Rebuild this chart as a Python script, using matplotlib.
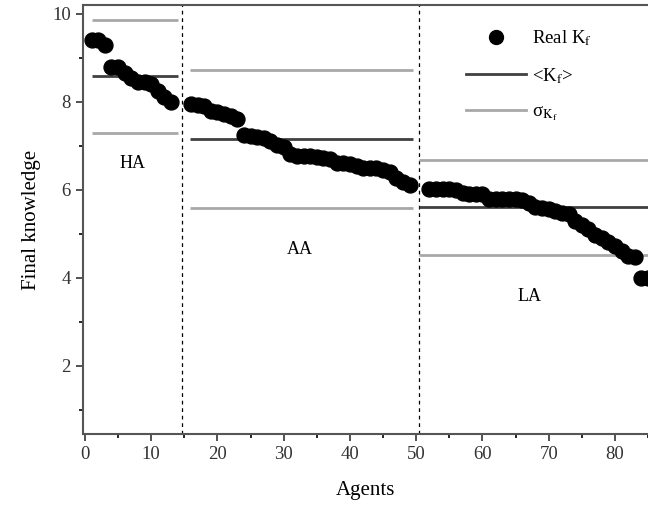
import numpy as np
import matplotlib.pyplot as plt
from matplotlib.lines import Line2D

plt.rcParams['font.family'] = ['Liberation Serif', 'DejaVu Serif']
plt.rcParams['mathtext.fontset'] = 'stix'

# Agent indices and final knowledge per group
ha_agents = np.arange(1, 14)
ha_values = [9.4, 9.4, 9.3, 8.8, 8.8, 8.65, 8.55, 8.45, 8.45, 8.4, 8.25, 8.1, 8.0]

aa_agents = np.arange(16, 50)
aa_values = [7.95, 7.93, 7.9, 7.8, 7.78, 7.72, 7.68, 7.6, 7.25, 7.22, 7.2, 7.18,
             7.1, 7.03, 6.98, 6.82, 6.78, 6.76, 6.76, 6.75, 6.72, 6.7, 6.62, 6.6,
             6.58, 6.55, 6.5, 6.5, 6.5, 6.45, 6.4, 6.28, 6.18, 6.1]

la_agents = np.arange(52, 86)
la_values = [6.02, 6.02, 6.02, 6.02, 6.0, 5.92, 5.9, 5.9, 5.9, 5.8, 5.8, 5.8,
             5.8, 5.8, 5.78, 5.7, 5.62, 5.58, 5.56, 5.52, 5.48, 5.45, 5.28, 5.2,
             5.1, 4.98, 4.9, 4.82, 4.72, 4.62, 4.5, 4.48, 4.0, 4.0]

# Group statistics: mean and spread, and the agent range each line covers
group_names = ['HA', 'AA', 'LA']
group_mean = [8.58, 7.15, 5.6]
group_sigma = [1.29, 1.57, 1.08]
group_start = [1, 15.8, 50.5]
group_end = [14, 49.5, 86]
group_label_pos = [(7.2, 6.6), (32.4, 4.64), (67.1, 3.57)]
boundaries = [14.6, 50.5]

fig = plt.figure(figsize=(6.48, 5.14), dpi=100)
ax = fig.add_axes([0.1276, 0.155, 0.8724, 0.835])

agents = np.concatenate([ha_agents, aa_agents, la_agents])
values = np.concatenate([ha_values, aa_values, la_values])
ax.scatter(agents, values, s=115, color='black', zorder=3)

for name, m, sd, x0, x1, pos in zip(group_names, group_mean, group_sigma,
                                     group_start, group_end, group_label_pos):
    ax.hlines(m, x0, x1, color='#404040', lw=2, zorder=2)
    ax.hlines([m + sd, m - sd], x0, x1, color='#a8a8a8', lw=2, zorder=2)
    ax.text(pos[0], pos[1], name, ha='center', va='center', fontsize=13)

for b in boundaries:
    ax.axvline(b, color='black', lw=0.9, ls=(0, (3, 3)), zorder=1)

ax.set_xlim(-0.35, 84.9)
ax.set_ylim(0.44, 10.2)
ax.set_xticks(np.arange(0, 81, 10))
ax.set_xticks(np.arange(0, 86, 5), minor=True)
ax.set_yticks([2, 4, 6, 8, 10])
ax.set_yticks(np.arange(1, 11, 1), minor=True)
ax.tick_params(which='major', length=5, width=1.2, labelsize=13.5, colors='#333333')
ax.tick_params(which='minor', length=3, width=1.2)
ax.spines['right'].set_visible(False)
for s in ['left', 'bottom', 'top']:
    ax.spines[s].set_linewidth(1.5)
    ax.spines[s].set_color('#555555')

ax.set_xlabel('Agents', fontsize=15, labelpad=13)
ax.set_ylabel('Final knowledge', fontsize=15, labelpad=8)

handles = [
    Line2D([], [], ls='none', marker='o', color='black', markersize=10),
    Line2D([], [], color='#404040', lw=2),
    Line2D([], [], color='#a8a8a8', lw=2),
]
labels = [r'Real K$_\mathrm{f}$', r'<K$_\mathrm{f}$>', r'σ$_{\mathrm{K}_\mathrm{f}}$']
ax.legend(handles, labels, loc='upper right', bbox_to_anchor=(0.93, 0.985),
          frameon=False, fontsize=13.5, labelspacing=0.95, handlelength=3.2,
          handletextpad=0.3)

fig.savefig('out.png', dpi=100)
